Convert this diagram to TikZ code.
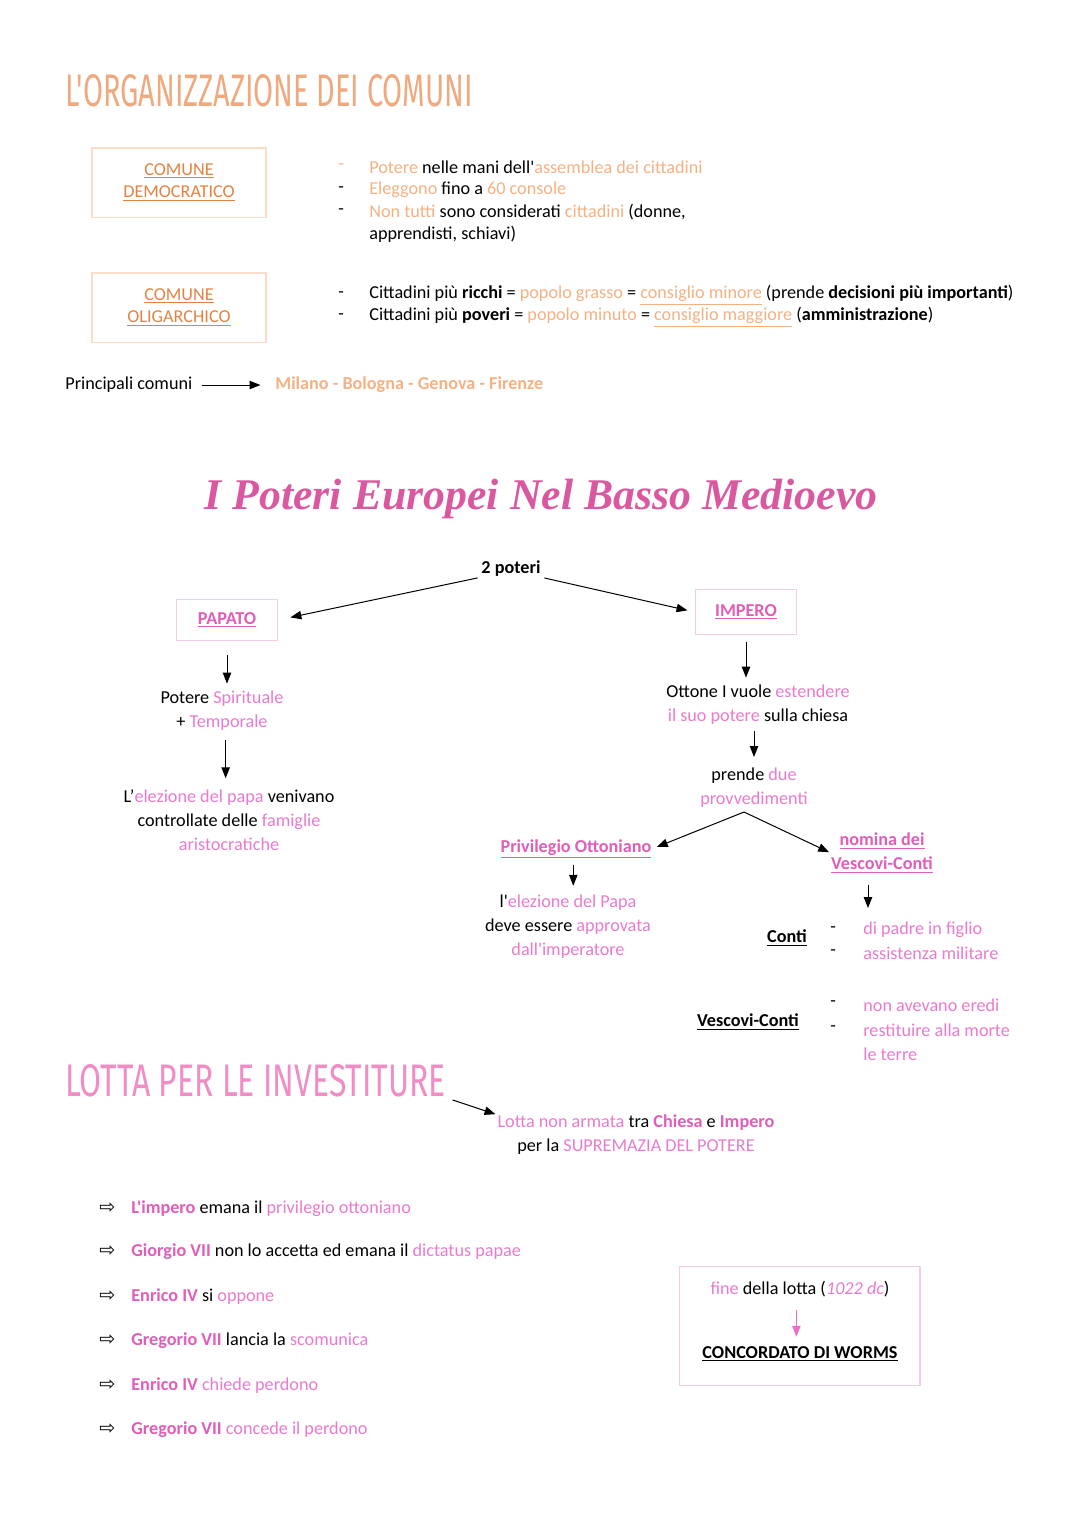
\documentclass[tikz,border=0pt]{standalone}
\usepackage{fontspec}
\setmainfont{Carlito}[Ligatures=TeXOff]
\newfontfamily\tA{Fira Sans}
\newfontfamily\tB{Liberation Serif}
\newfontfamily\djv{DejaVu Sans}
\usetikzlibrary{arrows.meta}
\definecolor{peachT}{HTML}{EFA97E}
\definecolor{orangeU}{HTML}{E38342}
\definecolor{peach}{HTML}{F4B183}
\definecolor{peachbox}{HTML}{FADCC8}
\definecolor{pinkD}{HTML}{E05DB8}
\definecolor{pinkL}{HTML}{EA7ACD}
\definecolor{pinkT}{HTML}{D9589F}
\definecolor{pinkT3}{HTML}{F08DC4}
\definecolor{pinkbox}{HTML}{F6CBE6}
\definecolor{pinkA}{HTML}{EE6CC8}
\newcommand\pe[1]{\textcolor{peach}{#1}}
\newcommand\pk[1]{\textcolor{pinkL}{#1}}
\newcommand\pkb[1]{\textcolor{pinkD}{\bfseries #1}}
\tikzset{
  txt/.style={inner sep=0pt, anchor=west},
  ctxt/.style={inner sep=0pt, align=center},
  cbox/.style={draw=peachbox, line width=0.6pt, align=center, inner sep=0pt, minimum width=95.7pt, minimum height=38pt},
  pbox/.style={draw=pinkbox, line width=0.6pt, align=center, inner sep=0pt},
  arr/.style={-{Triangle[length=6pt,width=4.6pt]}, line width=0.55pt},
}
\begin{document}
\begin{tikzpicture}[x=0.55pt, y=-0.55pt, font=\fontsize{10}{13.2}\selectfont]
\useasboundingbox (0,0) rectangle (1080,1526);
% ---- Title 1
\node[txt] (t1) at (65,91) {\color{peachT}\resizebox{224pt}{17.6pt}{\tA L'ORGANIZZAZIONE DEI COMUNI}};
% ---- comuni boxes
\node[cbox, font=\fontsize{10}{12.6}\selectfont] (dem) at (179,182.5) {\textcolor{orangeU}{\underline{COMUNE}}\\\textcolor{orangeU}{\underline{DEMOCRATICO}}};
\node[cbox, font=\fontsize{10}{12.6}\selectfont] (oli) at (179,307.5) {\textcolor{orangeU}{\underline{COMUNE}}\\\textcolor{orangeU}{\underline{OLIGARCHICO}}};
\node[txt] (d1) at (338,167) {\pe{-}};
\node[txt] (d2) at (338,190) {-};
\node[txt] (d3) at (338,212) {-};
\node[txt] (l1) at (369,167) {\pe{Potere} nelle mani dell'\pe{assemblea dei cittadini}};
\node[txt] (l2) at (369,190) {\pe{Eleggono} fino a \pe{60 console}};
\node[txt] (l3) at (369,212) {\pe{Non tutti} sono considerati \pe{cittadini} (donne,};
\node[txt] (l3b) at (369,234) {apprendisti, schiavi)};
\node[txt] (d4) at (338,295) {-};
\node[txt] (d5) at (338,317) {-};
\node[txt] (ric) at (369,295) {Cittadini più \textbf{ricchi} = \pe{popolo grasso} = \pe{\underline{consiglio minore}} (prende \textbf{decisioni più importanti})};
\node[txt] (pov) at (369,317) {Cittadini più \textbf{poveri} = \pe{popolo minuto} = \pe{\underline{consiglio maggiore}} (\textbf{amministrazione})};
\node[txt] (princ) at (65,385) {Principali comuni};
\node[txt] (milano) at (275,385) {\textcolor{peach}{\bfseries Milano - Bologna - Genova - Firenze}};
\draw[arr, shorten <=5pt, shorten >=8pt] (princ.east) -- (milano.west);
% ---- Title 2
\node[ctxt] (t2) at (541,499) {\color{pinkT}\resizebox{370pt}{!}{\tB\bfseries\itshape I Poteri Europei Nel Basso Medioevo}};
\node[ctxt] (poteri) at (511,569) {\textbf{2 poteri}};
\node[pbox, minimum width=55.5pt, minimum height=23pt] (papato) at (227,620) {\pkb{\underline{PAPATO}}};
\node[pbox, minimum width=56pt, minimum height=24.7pt] (impero) at (746,612) {\pkb{\underline{IMPERO}}};
\draw[arr, shorten <=2pt, shorten >=7pt] (poteri.south west) -- (papato.east);
\draw[arr, shorten <=2pt, shorten >=4pt] (poteri.south east) -- (impero.west);
% papato branch
\node[ctxt] (potere) at (222,711) {Potere \pk{Spirituale}\\+ \pk{Temporale}};
\draw[arr, shorten <=7.7pt, shorten >=4pt] (papato.south) -- (papato.south |- potere.north);
\node[ctxt] (elez) at (229,820) {L’\pk{elezione del papa} venivano\\controllate delle \pk{famiglie}\\\pk{aristocratiche}};
\draw[arr, shorten <=5pt, shorten >=6pt] ([xshift=2pt]potere.south) -- ([xshift=2pt]potere.south |- elez.north);
% impero branch
\node[ctxt] (ottone) at (758,705) {Ottone I vuole \pk{estendere}\\\pk{il suo potere} sulla chiesa};
\draw[arr, shorten <=4pt, shorten >=4pt] (impero.south) -- (impero.south |- ottone.north);
\node[ctxt] (prende) at (754,788) {prende \pk{due}\\\pk{provvedimenti}};
\draw[arr, shorten <=3pt, shorten >=6pt] (prende.north |- ottone.south) -- (prende.north);
\node[ctxt] (priv) at (576,849) {\pkb{\underline{Privilegio Ottoniano}}};
\node[ctxt] (nomina) at (882,853) {\pkb{\underline{nomina dei}}\\\pkb{\underline{Vescovi-Conti}}};
\coordinate (split) at (744,812);
\draw[arr, shorten >=3pt] (split) -- (priv.east);
\draw[arr, shorten >=1pt] (split) -- (nomina.west);
\node[ctxt] (lelez) at (568,927) {l'\pk{elezione del Papa}\\deve essere \pk{approvata}\\\pk{dall'imperatore}};
\draw[arr, shorten <=3pt, shorten >=5pt] ([xshift=-1.5pt]priv.south) -- ([xshift=-1.5pt]priv.south |- lelez.north);
\node[ctxt] (conti) at (787,938) {\textbf{\underline{Conti}}};
\coordinate (nomarr) at (868,908);
\draw[arr, shorten <=6pt] (nomina.south -| nomarr) -- (nomarr);
\node[txt] (d6) at (830,930) {-};
\node[txt] (d7) at (830,953) {-};
\node[txt] (c1) at (863,930) {\pk{di padre in figlio}};
\node[txt] (c2) at (863,953) {\pk{assistenza militare}};
\node[ctxt] (vc) at (748,1022) {\textbf{\underline{Vescovi-Conti}}};
\node[txt] (d8) at (830,1004) {-};
\node[txt] (d9) at (830,1029) {-};
\node[txt] (v1) at (863,1005) {\pk{non avevano eredi}};
\node[txt] (v2) at (863,1030) {\pk{restituire alla morte}};
\node[txt] (v3) at (863,1054) {\pk{le terre}};
% ---- Title 3
\node[txt] (t3) at (65,1081) {\color{pinkT3}\resizebox{209pt}{17.6pt}{\tA LOTTA PER LE INVESTITURE}};
\node[ctxt] (lotta) at (636,1135) {\pk{Lotta non armata} tra \pkb{Chiesa} e \pkb{Impero}\\per la \pk{SUPREMAZIA DEL POTERE}};
\draw[arr, shorten <=4pt, shorten >=1pt] (t3.south east) -- (lotta.north west);
% ---- list
\foreach \yy/\nm in {1208/a1,1251/a2,1296/a3,1340/a4,1385/a5,1429/a6}{
  \node[txt] (\nm) at (99,\yy) {\djv\fontsize{10.5}{10.5}\selectfont ⇨};
}
\node[txt] (e1) at (131,1209) {\pkb{L'impero} emana il \pk{privilegio ottoniano}};
\node[txt] (e2) at (131,1252) {\pkb{Giorgio VII} non lo accetta ed emana il \pk{dictatus papae}};
\node[txt] (e3) at (131,1297) {\pkb{Enrico IV} si \pk{oppone}};
\node[txt] (e4) at (131,1341) {\pkb{Gregorio VII} lancia la \pk{scomunica}};
\node[txt] (e5) at (131,1386) {\pkb{Enrico IV} \pk{chiede perdono}};
\node[txt] (e6) at (131,1430) {\pkb{Gregorio VII} \pk{concede il perdono}};
% ---- final box
\node[pbox, minimum width=132.5pt, minimum height=65pt] (finebox) at (799.5,1326) {};
\node[ctxt] (fine) at (800,1289) {\pk{fine} della lotta (\pk{\itshape 1022 dc})};
\node[ctxt] (conc) at (800,1354) {\textbf{\underline{CONCORDATO DI WORMS}}};
\draw[-{Triangle[length=6pt,width=4.6pt]}, draw=pinkA, fill=pinkA, line width=0.55pt, shorten <=7pt, shorten >=5pt] ([xshift=-2pt]fine.south) -- ([xshift=-2pt]fine.south |- conc.north);
\end{tikzpicture}
\end{document}
